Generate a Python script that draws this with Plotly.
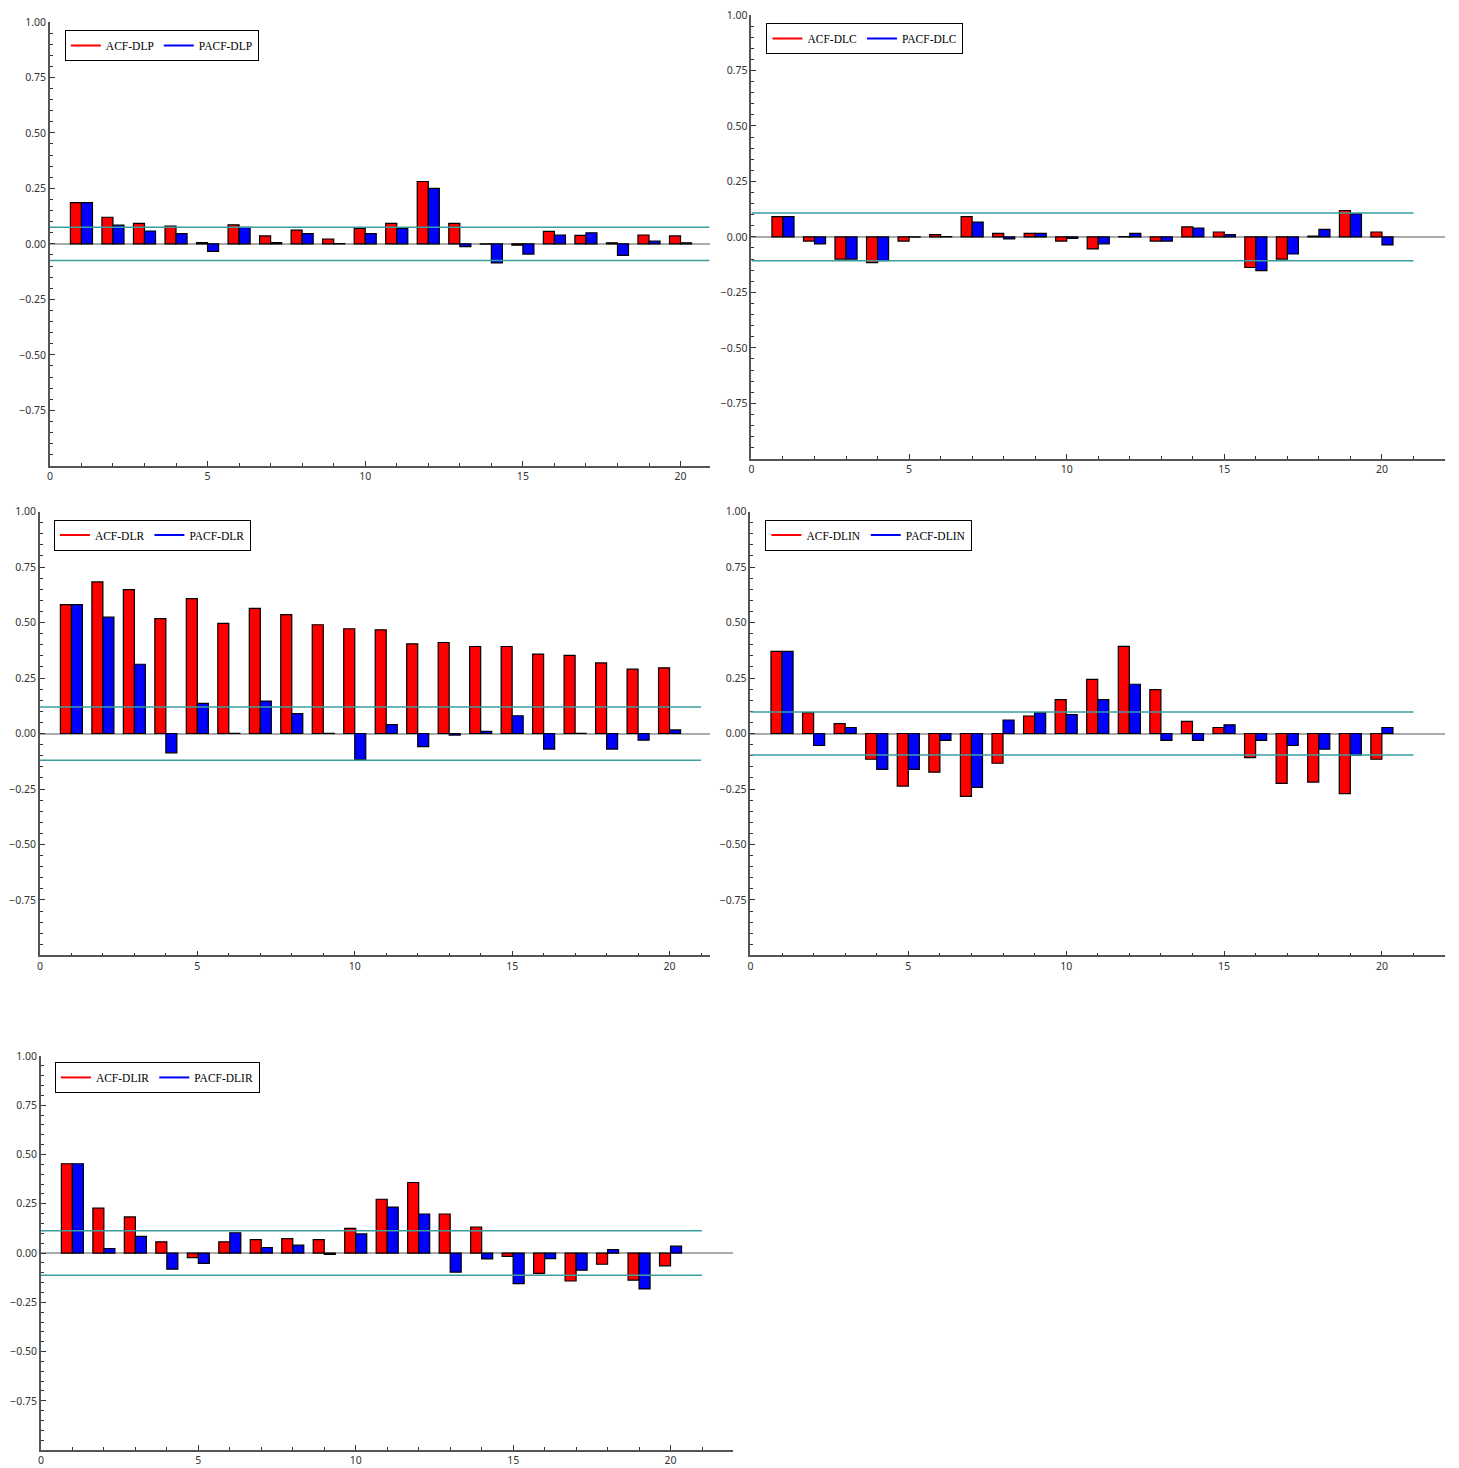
import plotly.graph_objects as go

lags = list(range(1, 21))

# ---- data ----
names = ["DLP", "DLC", "DLR", "DLIN", "DLIR"]

acf_dlp = [0.186, 0.120, 0.092, 0.080, 0.006, 0.086, 0.036, 0.062, 0.022, 0.070,
           0.092, 0.281, 0.092, -0.001, -0.006, 0.056, 0.038, 0.005, 0.040, 0.036]
pacf_dlp = [0.186, 0.084, 0.058, 0.046, -0.034, 0.074, 0.006, 0.046, 0.001, 0.046,
            0.070, 0.250, -0.012, -0.086, -0.046, 0.040, 0.050, -0.052, 0.012, 0.005]

acf_dlc = [0.091, -0.019, -0.100, -0.116, -0.019, 0.010, 0.091, 0.016, 0.016, -0.019,
           -0.054, 0.001, -0.019, 0.045, 0.022, -0.138, -0.100, 0.004, 0.119, 0.022]
pacf_dlc = [0.091, -0.031, -0.100, -0.107, -0.001, 0.001, 0.067, -0.009, 0.016, -0.007,
            -0.031, 0.016, -0.019, 0.040, 0.010, -0.152, -0.077, 0.034, 0.104, -0.036]

acf_dlr = [0.581, 0.683, 0.648, 0.518, 0.608, 0.496, 0.564, 0.536, 0.490, 0.472,
           0.467, 0.404, 0.410, 0.392, 0.392, 0.358, 0.352, 0.318, 0.290, 0.296]
pacf_dlr = [0.581, 0.524, 0.312, -0.087, 0.136, 0.001, 0.146, 0.090, 0.001, -0.118,
            0.040, -0.059, -0.007, 0.010, 0.080, -0.070, 0.001, -0.070, -0.030, 0.016]

acf_dlin = [0.370, 0.094, 0.045, -0.116, -0.237, -0.174, -0.283, -0.134, 0.079, 0.153,
            0.244, 0.393, 0.198, 0.055, 0.027, -0.109, -0.225, -0.219, -0.271, -0.116]
pacf_dlin = [0.370, -0.054, 0.027, -0.162, -0.162, -0.031, -0.243, 0.061, 0.094, 0.085,
             0.153, 0.222, -0.031, -0.031, 0.039, -0.031, -0.054, -0.071, -0.098, 0.027]

acf_dlir = [0.453, 0.228, 0.183, 0.057, -0.023, 0.057, 0.068, 0.073, 0.068, 0.125,
            0.273, 0.358, 0.198, 0.132, -0.017, -0.103, -0.142, -0.057, -0.138, -0.065]
pacf_dlir = [0.453, 0.023, 0.085, -0.082, -0.053, 0.103, 0.028, 0.040, -0.007, 0.097,
             0.233, 0.198, -0.097, -0.030, -0.155, -0.028, -0.087, 0.018, -0.182, 0.035]

bounds = [0.075, 0.108, 0.120, 0.097, 0.113]

acfs = [acf_dlp, acf_dlc, acf_dlr, acf_dlin, acf_dlir]
pacfs = [pacf_dlp, pacf_dlc, pacf_dlr, pacf_dlin, pacf_dlir]

y_tickvals = [-0.75, -0.5, -0.25, 0.0, 0.25, 0.5, 0.75, 1.0]
x_tickvals = [0, 5, 10, 15, 20]

# ---- layout geometry (pixels) ----
W, H = 1459, 1468
# left, right, top(=1.00), bottom(=-1.00), x range max
panels = [
    (47, 708, 15, 461, 20.92),
    (750, 1445, 8, 454, 22.0),
    (37, 708, 507, 953, 21.27),
    (749, 1445, 507, 953, 22.0),
    (38, 732, 1054, 1450, 22.0),
]
legend_pos = [(62, 23), (765, 16), (51, 515), (764, 515), (52, 1060)]

RED = "#FF0000"
BLUE = "#0000FF"
TEAL = "#3A9E9E"

fig = go.Figure()
layout = dict(
    width=W, height=H, margin=dict(l=0, r=0, t=0, b=0, pad=0),
    paper_bgcolor="white", plot_bgcolor="white",
    barmode="overlay", showlegend=True,
)
shapes = []

tick_font = dict(family="Noto Sans, DejaVu Sans, sans-serif", size=10.5, color="#333333")

for i in range(5):
    n = i + 1
    suffix = "" if n == 1 else str(n)
    xa, ya = "x" + suffix, "y" + suffix
    lg = "legend" + suffix
    left, right, top, bottom, xmax = panels[i]

    fig.add_trace(go.Bar(
        x=lags, y=acfs[i], width=0.35, offset=-0.35,
        marker=dict(color=RED, line=dict(color="black", width=1.2)),
        xaxis=xa, yaxis=ya, showlegend=False, name="ACF-" + names[i]))
    fig.add_trace(go.Bar(
        x=lags, y=pacfs[i], width=0.35, offset=0.0,
        marker=dict(color=BLUE, line=dict(color="black", width=1.2)),
        xaxis=xa, yaxis=ya, showlegend=False, name="PACF-" + names[i]))
    # legend entries drawn as line samples
    fig.add_trace(go.Scatter(
        x=[None], y=[None], mode="lines", line=dict(color=RED, width=2),
        name="ACF-" + names[i], xaxis=xa, yaxis=ya, legend=lg))
    fig.add_trace(go.Scatter(
        x=[None], y=[None], mode="lines", line=dict(color=BLUE, width=2),
        name="PACF-" + names[i], xaxis=xa, yaxis=ya, legend=lg))

    layout["xaxis" + suffix] = dict(
        domain=[left / W, right / W], range=[0, xmax], anchor=ya,
        tickvals=x_tickvals, ticks="inside", ticklen=5, tickcolor="#333333",
        minor=dict(dtick=1, tick0=0, ticks="inside", ticklen=3, tickcolor="#333333"),
        showline=True, linecolor="#555555", linewidth=1.5,
        showgrid=False, zeroline=False, tickfont=tick_font, fixedrange=True)
    layout["yaxis" + suffix] = dict(
        domain=[1 - bottom / H, 1 - top / H], range=[-1, 1], anchor=xa,
        tickvals=y_tickvals, tickformat=".2f", ticks="inside", ticklen=5,
        tickcolor="#333333",
        minor=dict(dtick=0.05, tick0=0, ticks="inside", ticklen=3, tickcolor="#333333"),
        showline=True, linecolor="#555555", linewidth=1.5,
        showgrid=False, zeroline=True, zerolinecolor="#AAAAAA", zerolinewidth=1.5,
        tickfont=tick_font, fixedrange=True)

    xend = min(21.0, xmax)
    for s in (1, -1):
        shapes.append(dict(
            type="line", xref=xa, yref=ya, x0=0, x1=xend,
            y0=s * bounds[i], y1=s * bounds[i],
            line=dict(color=TEAL, width=1.5), layer="above"))

    lx, ly = legend_pos[i]
    layout[lg] = dict(
        x=lx / W, y=1 - ly / H, xanchor="left", yanchor="top",
        orientation="h", bgcolor="white", bordercolor="black", borderwidth=1,
        font=dict(family="Liberation Serif, serif", size=11.5, color="black"),
        itemwidth=30, tracegroupgap=0)

layout["shapes"] = shapes
fig.update_layout(**layout)

pin_script = (
    "document.documentElement.style.margin='0';"
    "document.documentElement.style.overflow='hidden';"
    "document.body.style.margin='0';"
    "document.body.style.overflow='hidden';"
    "var g=document.getElementById('{plot_id}');"
    "g.style.position='fixed';g.style.top='0px';g.style.left='0px';"
)
fig.write_html(
    "out.html",
    config={"displayModeBar": False},
    post_script=pin_script,
)
